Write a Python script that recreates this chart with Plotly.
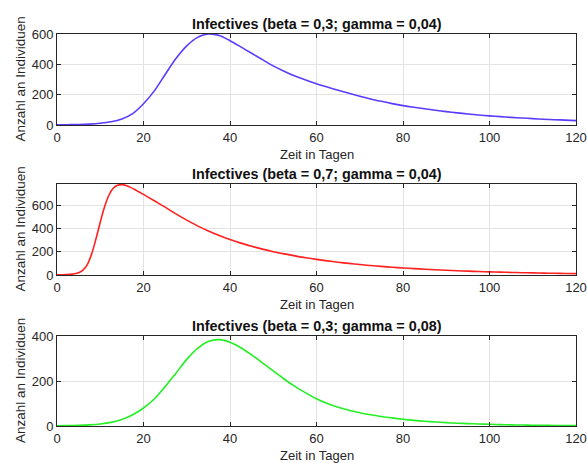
import plotly.graph_objects as go

# ---- data ----
x_ticks = [0, 20, 40, 60, 80, 100, 120]

days_blue = [0, 2.5, 5, 7.5, 10, 12.5, 15, 17.5, 20, 22.5, 25, 27.5, 30, 32.5, 35, 37.5, 40,
             42.5, 45, 47.5, 50, 52.5, 55, 57.5, 60, 62.5, 65, 67.5, 70, 72.5, 75, 77.5, 80,
             82.5, 85, 87.5, 90, 92.5, 95, 97.5, 100, 102.5, 105, 107.5, 110, 112.5, 115, 117.5, 120]
inf_blue = [1, 2, 3, 6, 11.5, 21, 40, 75, 140, 225, 333, 438, 522, 578, 600, 590, 556,
            515, 473, 431, 390, 355, 323, 296, 272, 250, 229, 209, 190, 172, 156, 141, 128,
            117, 107, 97, 88, 80, 73, 66, 60, 55, 50, 46, 42, 38, 35, 32, 29]

days_red = [0, 1, 2, 3, 4, 5, 6, 7, 8, 9, 10, 11, 12, 13, 14, 15, 16, 17, 18, 19, 20,
            22.5, 25, 27.5, 30, 32.5, 35, 37.5, 40, 42.5, 45, 47.5, 50, 52.5, 55, 57.5, 60,
            62.5, 65, 67.5, 70, 72.5, 75, 77.5, 80, 82.5, 85, 87.5, 90, 92.5, 95, 97.5, 100,
            102.5, 105, 107.5, 110, 112.5, 115, 117.5, 120]
inf_red = [1, 2, 3, 5, 10, 20, 42, 90, 180, 310, 455, 588, 688, 748, 774, 780, 772, 756, 737, 716, 695,
           640, 585, 527, 473, 424, 380, 341, 306, 275, 248, 223, 201, 182, 165, 149, 135,
           122, 110, 100, 90, 82, 74, 67, 61, 55, 50, 45, 41, 37, 33, 30, 27,
           25, 22, 20, 18, 16, 15, 13, 12]

days_green = [0, 2.5, 5, 7.5, 10, 12.5, 15, 17.5, 20, 22.5, 25, 27.5, 30, 32.5, 35, 37.5, 40,
              42.5, 45, 47.5, 50, 52.5, 55, 57.5, 60, 62.5, 65, 67.5, 70, 72.5, 75, 77.5, 80,
              82.5, 85, 87.5, 90, 92.5, 95, 97.5, 100, 102.5, 105, 107.5, 110, 112.5, 115, 117.5, 120]
inf_green = [1, 2, 3, 5, 9, 16, 29, 50, 80, 120, 175, 235, 296, 345, 376, 384, 372,
             348, 316, 281, 245, 209, 176, 147, 121, 100, 83, 70, 59, 50, 42, 36, 30,
             25, 21, 18, 15, 12.5, 10.5, 9, 7.5, 6.2, 5, 4.3, 3.6, 3, 2.5, 2.1, 1.8]

titles = ["Infectives (beta = 0,3; gamma = 0,04)",
          "Infectives (beta = 0,7; gamma = 0,04)",
          "Infectives (beta = 0,3; gamma = 0,08)"]
y_ranges = [[0, 600], [0, 785], [0, 400]]
y_ticks = [[0, 200, 400, 600], [0, 200, 400, 600], [0, 200, 400]]
x_label = "Zeit in Tagen"
y_label = "Anzahl an Individuen"

# ---- layout geometry (page pixels; body margin removed below) ----
W, H = 587, 463
ML, MR, MT, MB = 57, 11, 34, 37
PH = H - MT - MB
PW = W - ML - MR
panels_px = [(34, 125), (184, 275), (336, 426)]


def py(p):
    return (H - MB - p) / PH


def px(p):
    return (p - ML) / PW


series = [(days_blue, inf_blue, "#5a3cff"),
          (days_red, inf_red, "#ff2020"),
          (days_green, inf_green, "#22f022")]

fig = go.Figure()
font_fam = "Liberation Sans, Arial, Helvetica, sans-serif"
axis_col = "#262626"

annotations = []
for i, ((xs, ys, col), (top, bot)) in enumerate(zip(series, panels_px)):
    n = "" if i == 0 else str(i + 1)
    fig.add_trace(go.Scatter(x=xs, y=ys, mode="lines",
                             line=dict(color=col, width=1.6, shape="spline", smoothing=0.8),
                             xaxis="x" + n, yaxis="y" + n, showlegend=False,
                             hoverinfo="skip"))
    common = dict(showline=True, linecolor=axis_col, linewidth=1, mirror="ticks",
                  ticks="inside", ticklen=4, tickcolor=axis_col, tickwidth=1,
                  showgrid=True, gridcolor="#e3e3e3", gridwidth=1, zeroline=False,
                  automargin=False, ticklabeloverflow="allow",
                  tickfont=dict(family=font_fam, size=13, color=axis_col))
    fig.update_layout(**{
        "xaxis" + n: dict(domain=[0, 1], range=[0, 120], tickvals=x_ticks,
                          anchor="y" + n, **common),
        "yaxis" + n: dict(domain=[py(bot), py(top)], range=y_ranges[i], tickvals=y_ticks[i],
                          anchor="x" + n, **common),
    })
    annotations.append(dict(text="<b>" + titles[i] + "</b>", x=0.5, y=py(top - 10),
                            xref="paper", yref="paper", xanchor="center", yanchor="middle",
                            showarrow=False, font=dict(family=font_fam, size=14.4, color="#111111")))
    annotations.append(dict(text=x_label, x=0.5, y=py(bot + 29),
                            xref="paper", yref="paper", xanchor="center", yanchor="middle",
                            showarrow=False, font=dict(family=font_fam, size=13, color=axis_col)))
    annotations.append(dict(text=y_label, x=px(20), y=py((top + bot) / 2), textangle=-90,
                            xref="paper", yref="paper", xanchor="center", yanchor="middle",
                            showarrow=False, font=dict(family=font_fam, size=13.5, color=axis_col)))

fig.update_layout(width=W, height=H, margin=dict(l=ML, r=MR, t=MT, b=MB),
                  paper_bgcolor="white", plot_bgcolor="white",
                  annotations=annotations)

fig.write_html("out.html", config={"displayModeBar": False},
               post_script="document.body.style.margin='0';document.body.style.overflow='hidden';")
